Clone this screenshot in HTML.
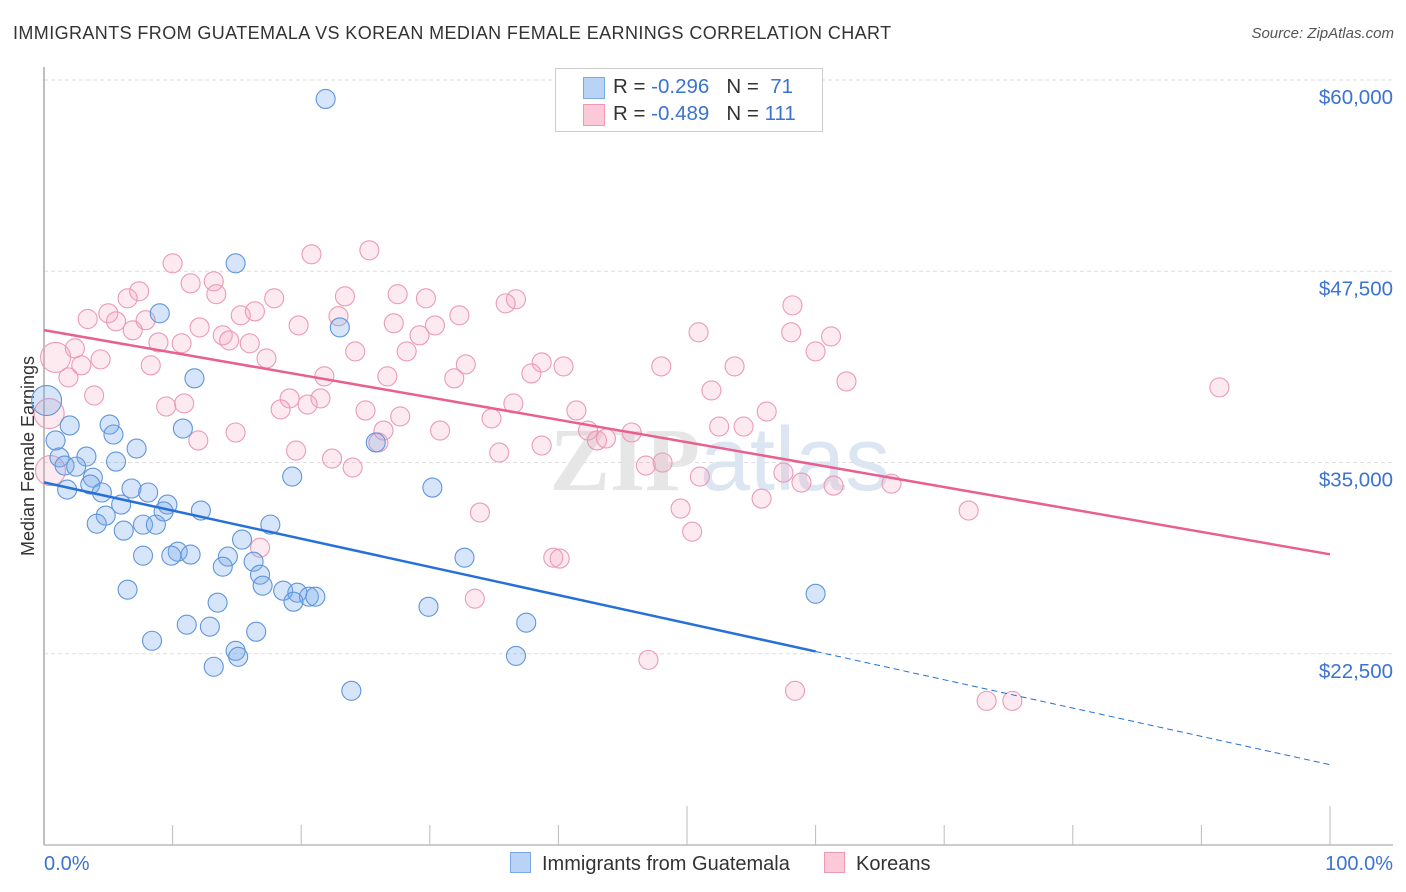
<!DOCTYPE html>
<html><head><meta charset="utf-8">
<style>
body{margin:0;background:#fff;font-family:"Liberation Sans",sans-serif;}
#wrap{position:relative;width:1406px;height:892px;overflow:hidden;}
.t{position:absolute;white-space:nowrap;}
</style></head>
<body>
<div id="wrap">
<div class="t" style="left:13px;top:23px;font-size:18px;letter-spacing:0.4px;color:#333;">IMMIGRANTS FROM GUATEMALA VS KOREAN MEDIAN FEMALE EARNINGS CORRELATION CHART</div>
<div class="t" style="right:12px;top:25px;font-size:15px;color:#555;font-style:italic;">Source: ZipAtlas.com</div>
<svg id="plot" width="1406" height="892" style="position:absolute;left:0;top:0;"></svg>
</div>
<script>
const yTicks=[60000,47500,35000,22500];
const yTickLabels=["$60,000","$47,500","$35,000","$22,500"];
const xTickLabels=["0.0%","100.0%"];
const bluePct=[21.9,14.9,9.0,23.0,11.7,0.2,5.1,2.0,5.4,10.8,0.9,7.2,25.8,5.6,3.3,1.2,1.6,2.5,3.8,3.6,1.8,19.3,30.2,6.8,8.1,4.5,6.0,9.6,9.3,4.8,12.2,4.1,7.7,6.2,8.7,17.6,15.4,7.7,10.4,11.4,9.9,14.3,32.7,13.9,16.3,16.8,17.0,6.5,18.6,19.7,20.6,21.1,19.4,13.5,29.9,60.0,11.1,12.9,16.5,37.5,8.4,14.9,15.1,36.7,13.2,23.9];
const blueVal=[58760,48020,44750,43830,40500,39050,37480,37420,36830,37220,36440,35910,36310,35060,35390,35330,34800,34730,34010,33560,33230,34080,33360,33300,33040,33040,32250,32250,31800,31530,31860,31000,30940,30550,30940,30940,29960,28910,29170,28980,28910,28850,28780,28190,28520,27670,26950,26690,26620,26490,26230,26230,25900,25840,25570,26420,24400,24270,23940,24530,23350,22690,22300,22360,21650,20080];
const pinkPct=[25.3,20.8,10.0,13.2,11.4,7.4,6.5,13.4,17.9,23.4,27.5,29.7,36.7,35.9,58.2,3.4,5.0,5.6,7.9,15.3,16.4,22.9,27.2,32.3,6.9,12.1,19.8,30.4,13.9,14.4,29.2,8.9,10.7,16.0,50.9,58.1,61.2,2.4,0.9,24.2,28.2,60.0,4.4,2.9,17.3,8.3,32.8,38.7,40.4,48.0,53.7,1.9,21.8,26.7,31.9,37.9,62.4,91.4,3.9,51.9,19.1,21.5,20.5,10.9,9.5,18.4,25.0,36.5,41.4,56.2,0.4,27.7,34.8,14.9,12.0,26.4,30.8,42.3,52.5,54.4,45.7,19.6,38.7,43.0,43.7,26.0,22.4,35.4,24.0,46.8,48.1,51.0,57.5,58.9,61.4,65.9,0.5,49.5,55.8,71.9,33.9,50.4,16.8,39.6,40.1,33.5,47.0,58.4,73.3,75.3];
const pinkVal=[48870,48610,48020,46840,46710,46190,45730,46000,45730,45860,46000,45730,45670,45400,45270,44380,44750,44230,44300,44620,44880,44560,44100,44620,43640,43830,43960,43960,43310,42980,43310,42850,42790,42790,43510,43510,43240,42460,41870,42260,42260,42260,41740,41350,41800,41350,41410,41540,41280,41280,41280,40560,40630,40630,40500,40820,40300,39910,39380,39710,39190,39190,38790,38860,38660,38470,38400,38860,38400,38330,38200,38010,37880,36960,36440,37090,37090,37090,37350,37350,36960,35780,36110,36440,36570,36310,35260,35650,34670,34800,35000,34080,34340,33690,33490,33620,34470,31990,32640,31860,31730,30480,29430,28780,28720,26100,22100,20080,19420,19420];
const bigBlue=[5];
const bigPink=[38,70,96];
const blueTrend=[[0,33700],[60,22650],[100,15250]];
const pinkTrend=[[0,43650],[100,29000]];

const X0=44,X1=1330,YT=80,YB=845;
const xs=p=>X0+(X1-X0)*p/100;
const ys=v=>YT+(60000-v)*(YB-YT)/50000;
const svg=document.getElementById('plot');
const NS='http://www.w3.org/2000/svg';
function mk(tag,attrs,parent){const e=document.createElementNS(NS,tag);for(const k in attrs)e.setAttribute(k,attrs[k]);(parent||svg).appendChild(e);return e;}

yTicks.forEach((v,i)=>{
  const g=mk('line',{x1:X0,x2:1393,y1:ys(v),y2:ys(v),stroke:'#ddd','stroke-dasharray':'4,3'});
  
  
  const t=mk('text',{x:1393,y:ys(v)+24,'text-anchor':'end','font-size':20.5,fill:'#3a73d0','font-family':'Liberation Sans, sans-serif'});
  t.textContent=yTickLabels[i];
  
  
});
const ya=mk('line',{x1:X0,x2:X0,y1:67,y2:YB,stroke:'#aaa','stroke-width':1.5});


const xa=mk('line',{x1:X0,x2:1393,y1:YB,y2:YB,stroke:'#bbb','stroke-width':1.5});


for(let i=1;i<=10;i++){
  const tk=mk('line',{x1:xs(i*10),x2:xs(i*10),y1:(i==5||i==10)?806:825,y2:YB,stroke:'#bbb'});
  
  
}
const xl0=mk('text',{x:X0,y:870,'font-size':20,fill:'#3a73d0','font-family':'Liberation Sans, sans-serif'});
xl0.textContent=xTickLabels[0];


const xl1=mk('text',{x:1393,y:870,'text-anchor':'end','font-size':20,fill:'#3a73d0','font-family':'Liberation Sans, sans-serif'});
xl1.textContent=xTickLabels[1];


const yt=mk('text',{x:34,y:456,'text-anchor':'middle','font-size':18,fill:'#333',transform:'rotate(-90 34 456)','font-family':'Liberation Sans, sans-serif'});
yt.textContent='Median Female Earnings';


const wm=mk('text',{x:720,y:490,'text-anchor':'middle','font-size':90,fill:'#e6e6e6','font-family':'Liberation Serif, serif','font-weight':'bold'});
wm.innerHTML='ZIP<tspan fill="#dce6f2" font-family="Liberation Sans, sans-serif" font-weight="normal">atlas</tspan>';



pinkPct.forEach((p,i)=>{
  const c=mk('circle',{cx:xs(p),cy:ys(pinkVal[i]),r:bigPink.includes(i)?15:9.5,fill:'rgba(244,160,188,0.22)',stroke:'#eb9ab5','stroke-width':1.1});
  
  
});
bluePct.forEach((p,i)=>{
  const c=mk('circle',{cx:xs(p),cy:ys(blueVal[i]),r:bigBlue.includes(i)?15:9.5,fill:'rgba(120,170,235,0.3)',stroke:'#5f95dc','stroke-width':1.1});
  
  
});
const bl=mk('line',{x1:xs(blueTrend[0][0]),y1:ys(blueTrend[0][1]),x2:xs(blueTrend[1][0]),y2:ys(blueTrend[1][1]),stroke:'#2670d8','stroke-width':2.5});


const bd=mk('line',{x1:xs(blueTrend[1][0]),y1:ys(blueTrend[1][1]),x2:xs(blueTrend[2][0]),y2:ys(blueTrend[2][1]),stroke:'#2670d8','stroke-width':1,'stroke-dasharray':'6,4'});


const pl=mk('line',{x1:xs(pinkTrend[0][0]),y1:ys(pinkTrend[0][1]),x2:xs(pinkTrend[1][0]),y2:ys(pinkTrend[1][1]),stroke:'#e8608f','stroke-width':2.5});


</script>

<div style="position:absolute;left:555px;top:68px;width:266px;height:62px;border:1px solid #ccc;background:#fff;font-size:20.5px;">
  <div style="position:absolute;left:27px;top:8px;width:20px;height:20px;background:#b8d3f5;border:1px solid #7aa8e4;"></div>
  <div class="t" style="left:57px;top:6px;color:#333;">R = <span style="color:#3a73d0">-0.296</span>&nbsp;&nbsp;&nbsp;N = &nbsp;<span style="color:#3a73d0">71</span></div>
  <div style="position:absolute;left:27px;top:35px;width:20px;height:20px;background:#fbc9d8;border:1px solid #ee99b4;"></div>
  <div class="t" style="left:57px;top:33px;color:#333;">R = <span style="color:#3a73d0">-0.489</span>&nbsp;&nbsp;&nbsp;N = <span style="color:#3a73d0">111</span></div>
</div>
<div style="position:absolute;left:510px;top:852px;font-size:20px;color:#333;">
  <div style="position:absolute;left:0;top:0;white-space:nowrap;"><span style="display:inline-block;width:19px;height:19px;background:#b8d3f5;border:1px solid #7aa8e4;vertical-align:-3px;margin-right:11px;"></span>Immigrants from Guatemala</div>
  <div style="position:absolute;left:314px;top:0;white-space:nowrap;"><span style="display:inline-block;width:19px;height:19px;background:#fbc9d8;border:1px solid #ee99b4;vertical-align:-3px;margin-right:11px;"></span>Koreans</div>
</div>
</body></html>
